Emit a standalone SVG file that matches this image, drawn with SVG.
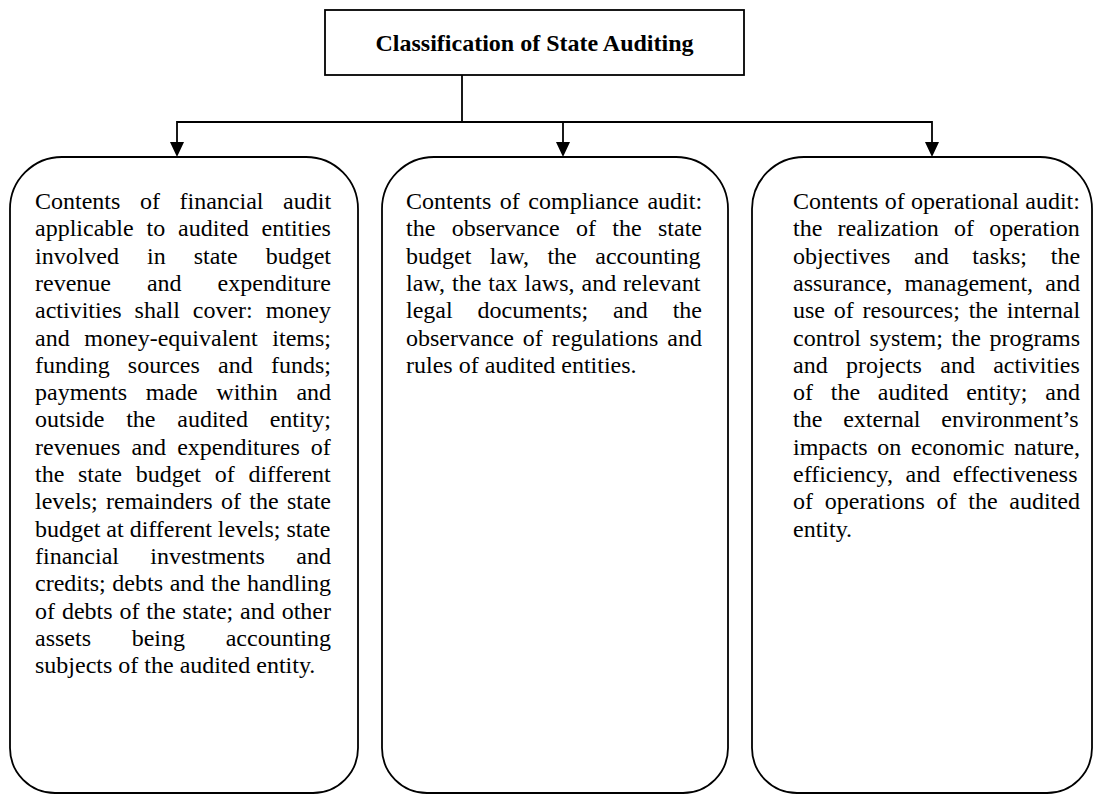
<svg xmlns="http://www.w3.org/2000/svg" width="1093" height="795" viewBox="0 0 1093 795">
<style>
.box{fill:#fff;stroke:#000;stroke-width:1.8}
.title{font-family:"Liberation Serif","Times New Roman",serif;font-size:24px;font-weight:bold;fill:#000}
.body{font-family:"Liberation Serif","Times New Roman",serif;font-size:24px;fill:#000}
.conn{fill:none;stroke:#000;stroke-width:1.8}
</style>
<defs>
<marker id="ah" markerUnits="userSpaceOnUse" markerWidth="16" markerHeight="16" viewBox="0 0 16 16" refX="8" refY="8" orient="auto">
<path d="M0,1 L15,8 L0,15 Z" fill="#000"/>
</marker>
</defs>
<rect width="1093" height="795" fill="#fff"/>
<g id="connectors">
<line class="conn" x1="462" y1="75" x2="462" y2="122"/>
<line class="conn" x1="177" y1="122" x2="932" y2="122"/>
<path class="conn" d="M177,121 V150" marker-end="url(#ah)"/>
<path class="conn" d="M563,122 V150" marker-end="url(#ah)"/>
<path class="conn" d="M932,121 V150" marker-end="url(#ah)"/>
</g>
<g id="title">
<rect class="box" x="325" y="10" width="419" height="65"/>
<text class="title" x="534.5" y="51" text-anchor="middle">Classification of State Auditing</text>
</g>
<g id="financial">
<path class="box" d="M62,157 H306 A52,52 0 0 1 358,209 V748 A45,45 0 0 1 313,793 H55 A45,45 0 0 1 10,748 V209 A52,52 0 0 1 62,157 Z"/>
<text class="body">
<tspan x="35" y="209" word-spacing="13.6">Contents of financial audit</tspan>
<tspan x="35" y="236.3" word-spacing="6.9">applicable to audited entities</tspan>
<tspan x="35" y="263.6" word-spacing="22">involved in state budget</tspan>
<tspan x="35" y="290.9" word-spacing="30">revenue and expenditure</tspan>
<tspan x="35" y="318.2" word-spacing="6.9">activities shall cover: money</tspan>
<tspan x="35" y="345.5" word-spacing="8.7">and money-equivalent items;</tspan>
<tspan x="35" y="372.8" word-spacing="12.2">funding sources and funds;</tspan>
<tspan x="35" y="400.1" word-spacing="12.7">payments made within and</tspan>
<tspan x="35" y="427.4" word-spacing="15.8">outside the audited entity;</tspan>
<tspan x="35" y="454.7" word-spacing="5.1">revenues and expenditures of</tspan>
<tspan x="35" y="482" word-spacing="7.7">the state budget of different</tspan>
<tspan x="35" y="509.3" word-spacing="2.35">levels; remainders of the state</tspan>
<tspan x="35" y="536.6" word-spacing="0">budget at different levels; state</tspan>
<tspan x="35" y="563.9" word-spacing="25.35">financial investments and</tspan>
<tspan x="35" y="591.2" word-spacing="0.7">credits; debts and the handling</tspan>
<tspan x="35" y="618.5" word-spacing="0.9">of debts of the state; and other</tspan>
<tspan x="35" y="645.8" word-spacing="34.7">assets being accounting</tspan>
<tspan x="35" y="673.1">subjects of the audited entity.</tspan>
</text>
</g>
<g id="compliance">
<path class="box" d="M434,157 H676 A52,52 0 0 1 728,209 V748 A45,45 0 0 1 683,793 H427 A45,45 0 0 1 382,748 V209 A52,52 0 0 1 434,157 Z"/>
<text class="body">
<tspan x="406" y="209" word-spacing="2.5">Contents of compliance audit:</tspan>
<tspan x="406" y="236.3" word-spacing="10.35">the observance of the state</tspan>
<tspan x="406" y="263.6" word-spacing="12.5">budget law, the accounting</tspan>
<tspan x="406" y="290.9" word-spacing="0.94">law, the tax laws, and relevant</tspan>
<tspan x="406" y="318.2" word-spacing="18.9">legal documents; and the</tspan>
<tspan x="406" y="345.5" word-spacing="2.9">observance of regulations and</tspan>
<tspan x="406" y="372.8">rules of audited entities.</tspan>
</text>
</g>
<g id="operational">
<path class="box" d="M804,157 H1040 A52,52 0 0 1 1092,209 V748 A45,45 0 0 1 1047,793 H797 A45,45 0 0 1 752,748 V209 A52,52 0 0 1 804,157 Z"/>
<text class="body">
<tspan x="793" y="209" word-spacing="0.33">Contents of operational audit:</tspan>
<tspan x="793" y="236.3" word-spacing="9.2">the realization of operation</tspan>
<tspan x="793" y="263.6" word-spacing="17.7">objectives and tasks; the</tspan>
<tspan x="793" y="290.9" word-spacing="6.2">assurance, management, and</tspan>
<tspan x="793" y="318.2" word-spacing="2.8">use of resources; the internal</tspan>
<tspan x="793" y="345.5" word-spacing="2.6">control system; the programs</tspan>
<tspan x="793" y="372.8" word-spacing="12.3">and projects and activities</tspan>
<tspan x="793" y="400.1" word-spacing="11.75">of the audited entity; and</tspan>
<tspan x="793" y="427.4" word-spacing="14.85">the external environment’s</tspan>
<tspan x="793" y="454.7" word-spacing="3.7">impacts on economic nature,</tspan>
<tspan x="793" y="482" word-spacing="6.55">efficiency, and effectiveness</tspan>
<tspan x="793" y="509.3" word-spacing="5.75">of operations of the audited</tspan>
<tspan x="793" y="536.6">entity.</tspan>
</text>
</g>
</svg>
